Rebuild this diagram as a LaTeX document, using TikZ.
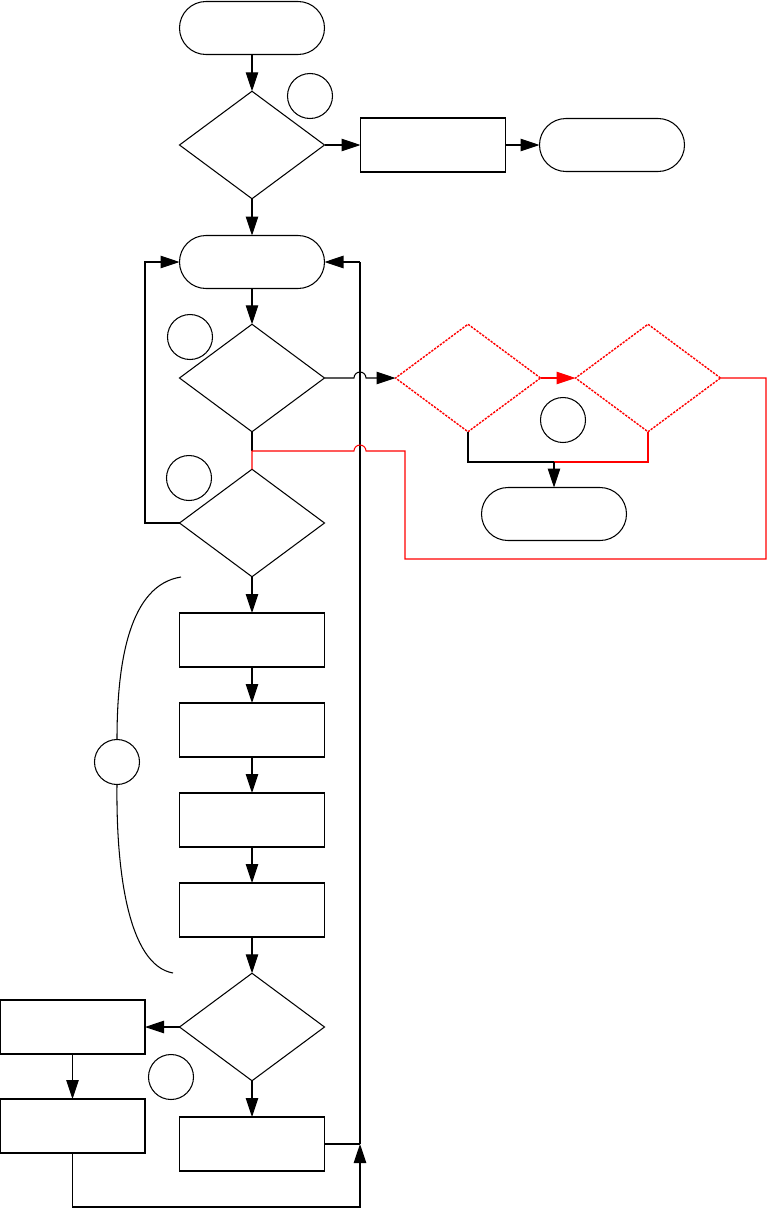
\documentclass[tikz,border=0pt]{standalone}
\usepackage{xcolor}
\definecolor{cLine}{HTML}{000000}
\definecolor{cRed}{HTML}{FF0000}
\usepackage{tikz}
\usetikzlibrary{arrows.meta,shapes.geometric}
\tikzset{
  node-term/.style={draw=cLine,line width=0.6pt,rectangle,rounded corners=5.3mm,
    minimum width=29mm,minimum height=10.6mm,inner sep=0pt,outer sep=0pt},
  node-box/.style={draw=cLine,line width=0.6pt,rectangle,
    minimum width=29mm,minimum height=10.8mm,inner sep=0pt,outer sep=0pt},
  node-dec/.style={draw=cLine,line width=0.6pt,diamond,
    minimum width=29mm,minimum height=21.5mm,inner sep=0pt,outer sep=0pt},
  node-dec-red/.style={node-dec,draw=cRed,line width=0.8pt,
    dash pattern=on 1.3pt off 0.7pt},
  node-mark/.style={draw=cLine,line width=0.6pt,circle,minimum size=9mm,
    inner sep=0pt,outer sep=0pt},
  conn-line/.style={line width=0.6pt,draw=cLine},
  conn-red/.style={line width=0.6pt,draw=cRed},
  conn-bus/.style={line width=1.1pt,draw=cLine},
  arrow/.style={-{Triangle[length=3.8mm,width=2.5mm]},conn-line},
  arrow-red/.style={-{Triangle[length=3.8mm,width=2.5mm]},conn-red,fill=cRed},
}

\begin{document}
\begin{tikzpicture}[x=0.2mm,y=-0.2mm]
  \useasboundingbox (0,0) rectangle (767,1208);
  % main column
  \node[node-term] (T-start) at (252,28) {};
  \node[node-dec] (D-check) at (252,145) {};
  \node[node-box] (B-side) at (433,145) {};
  \node[node-term] (T-side) at (612,145) {};
  \node[node-term] (T-loop) at (252,262) {};
  \node[node-dec] (D-a) at (252,378) {};
  \node[node-dec] (D-b) at (252,523) {};
  \foreach \name/\y in {B-1/640, B-2/730, B-3/820, B-4/910}
    \node[node-box] (\name) at (252,\y) {};
  \node[node-dec] (D-c) at (252,1027) {};
  \node[node-box] (B-left1) at (72.5,1027) {};
  \node[node-box] (B-left2) at (72.5,1126) {};
  \node[node-box] (B-end) at (252,1144) {};
  % red branch
  \node[node-dec-red] (R-1) at (468,378) {};
  \node[node-dec-red] (R-2) at (648,378) {};
  \node[node-term] (T-red) at (554,514) {};
  % markers
  \foreach \name/\x/\y in {M1/310/96, M2/190/337, M3/189/478, M4/563/420,
      M5/117/762, M6/171/1077}
    \node[node-mark] (\name) at (\x,\y) {};

  \coordinate (j-red) at (252,451);
  \coordinate (m-red) at (554,462);
  \coordinate (bus-top) at (360,262);
  \coordinate (bus-bot) at (360,1144);
  \coordinate (bus-foot) at (360,1207);
  \coordinate (brace-top) at (181,577);
  \coordinate (brace-bot) at (173,973);

  \draw[arrow] (T-start.south) -- (D-check.north);
  \draw[arrow] (D-check.east) -- (B-side.west);
  \draw[arrow] (B-side.east) -- (T-side.west);
  \draw[arrow] (D-check.south) -- (T-loop.north);
  \draw[arrow] (T-loop.south) -- (D-a.north);
  \draw[conn-line] (D-a.south) -- (j-red);
  \draw[arrow] (D-b.south) -- (B-1.north);
  \foreach \a/\b in {B-1/B-2, B-2/B-3, B-3/B-4}
    \draw[arrow] (\a.south) -- (\b.north);
  \draw[arrow] (B-4.south) -- (D-c.north);
  \draw[arrow] (D-c.west) -- (B-left1.east);
  \draw[arrow] (B-left1.south) -- (B-left2.north);
  \draw[arrow] (D-c.south) -- (B-end.north);
  % loop back on the left
  \draw[arrow] (D-b.west) -- (145,523) |- (T-loop.west);
  % bus on the right
  \draw[conn-bus] (bus-bot) -- (bus-top);
  \draw[arrow] (bus-top) -- (T-loop.east);
  \draw[conn-line] (B-end.east) -- (bus-bot);
  \draw[arrow] (B-left2.south) |- (bus-foot) -- (bus-bot);

  % red branch
  \draw[arrow] (D-a.east) -- (354,378) arc[start angle=180,end angle=0,radius=1.2mm]
    -- (R-1.west);
  \draw[arrow-red] (R-1.east) -- (R-2.west);
  \draw[conn-line] (R-1.south) |- (m-red);
  \draw[conn-red] (R-2.south) |- (m-red);
  \draw[arrow] (m-red) -- (T-red.north);
  \draw[conn-red] (R-2.east) -- (766,378) -- (766,559) -- (405,559) -- (405,451)
    -- (366,451) arc[start angle=0,end angle=180,radius=1.2mm] -- (j-red) -- (D-b.north);

  % brace
  \draw[conn-line] (brace-top) .. controls (130,585) and (117,660) .. (M5.north);
  \draw[conn-line] (M5.south) .. controls (116,870) and (128,965) .. (brace-bot);
\end{tikzpicture}
\end{document}
